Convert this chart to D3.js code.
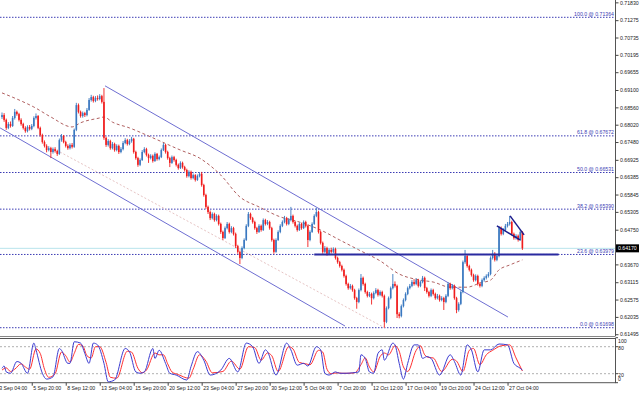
<!DOCTYPE html>
<html><head><meta charset="utf-8">
<script src="https://cdn.jsdelivr.net/npm/d3@7"></script>
<style>html,body{margin:0;padding:0;background:#fff;overflow:hidden}svg{display:block}text{font-family:"Liberation Sans",Arial,sans-serif}</style>
</head><body><svg id="c" width="640" height="394"></svg>
<script>
// ---------- DATA ----------
const firstOpen = 0.6826;
const closes = [
0.6832,0.6817,0.6792,0.6804,0.6798, 0.6823,0.6842,0.6835,0.6817,0.6804,
0.6792,0.6782,0.6795,0.6789,0.6798, 0.6823,0.6829,0.6792,0.6770,0.6748,
0.6736,0.6723,0.6729,0.6717,0.6726, 0.6720,0.6711,0.6754,0.6767,0.6748,
0.6736,0.6729,0.6739,0.6733,0.6786, 0.6863,0.6842,0.6829,0.6838,0.6832,
0.6848,0.6879,0.6888,0.6876,0.6885, 0.6882,0.6891,0.6873,0.6761,0.6739,
0.6751,0.6729,0.6742,0.6723,0.6736, 0.6717,0.6726,0.6745,0.6754,0.6742,
0.6751,0.6758,0.6717,0.6698,0.6677, 0.6692,0.6717,0.6726,0.6708,0.6698,
0.6705,0.6689,0.6711,0.6695,0.6701, 0.6723,0.6739,0.6717,0.6698,0.6683,
0.6701,0.6692,0.6677,0.6667,0.6683, 0.6670,0.6661,0.6642,0.6655,0.6636,
0.6645,0.6630,0.6642,0.6649,0.6614, 0.6583,0.6546,0.6530,0.6511,0.6524,
0.6505,0.6518,0.6493,0.6468,0.6449, 0.6480,0.6493,0.6468,0.6480,0.6462,
0.6424,0.6406,0.6387,0.6418,0.6443, 0.6487,0.6524,0.6511,0.6499,0.6480,
0.6468,0.6487,0.6474,0.6505,0.6493, 0.6499,0.6480,0.6443,0.6406,0.6443,
0.6468,0.6487,0.6499,0.6511,0.6493, 0.6505,0.6518,0.6499,0.6487,0.6474,
0.6493,0.6480,0.6499,0.6487,0.6443, 0.6468,0.6493,0.6518,0.6530,0.6468,
0.6434,0.6406,0.6418,0.6400,0.6412, 0.6406,0.6415,0.6387,0.6374,0.6362,
0.6350,0.6331,0.6306,0.6293,0.6300, 0.6287,0.6262,0.6250,0.6287,0.6325,
0.6306,0.6281,0.6269,0.6275,0.6262, 0.6278,0.6287,0.6272,0.6281,0.6269,
0.6188,0.6231,0.6262,0.6293,0.6306, 0.6300,0.6212,0.6206,0.6237,0.6256,
0.6275,0.6293,0.6300,0.6312,0.6306, 0.6318,0.6300,0.6312,0.6325,0.6293,
0.6281,0.6269,0.6287,0.6275,0.6262, 0.6269,0.6256,0.6262,0.6250,0.6269,
0.6306,0.6293,0.6300,0.6262,0.6225, 0.6244,0.6281,0.6374,0.6393,0.6362,
0.6350,0.6334,0.6318,0.6331,0.6306, 0.6300,0.6318,0.6325,0.6331,0.6337,
0.6387,0.6400,0.6381,0.6393,0.6480, 0.6462,0.6474,0.6487,0.6493,0.6499,
0.6462,0.6449,0.6456,0.6443,0.6468, 0.6417
];
const highs = [
.6840,.6838,.6821,.6810,.6812, .6829,.6851,.6846,.6839,.6822,
.6808,.6797,.6800,.6801,.6804, .6828,.6837,.6832,.6796,.6774,
.6753,.6741,.6735,.6733,.6731, .6732,.6724,.6759,.6773,.6770,
.6752,.6741,.6744,.6745,.6790, .6870,.6868,.6846,.6843,.6842,
.6854,.6885,.6895,.6892,.6891, .6893,.6897,.6895,.6916,.6765,
.6757,.6755,.6748,.6746,.6741, .6740,.6732,.6751,.6760,.6758,
.6757,.6764,.6761,.6721,.6702, .6697,.6723,.6732,.6730,.6712,
.6710,.6709,.6716,.6714,.6706, .6728,.6745,.6742,.6721,.6702,
.6706,.6705,.6696,.6681,.6688, .6687,.6674,.6665,.6660,.6659,
.6650,.6648,.6647,.6654,.6655, .6618,.6587,.6550,.6535,.6529,
.6528,.6523,.6522,.6497,.6472, .6485,.6499,.6497,.6486,.6484,
.6466,.6428,.6410,.6423,.6448, .6492,.6530,.6528,.6515,.6503,
.6484,.6492,.6491,.6510,.6509, .6505,.6503,.6484,.6447,.6448,
.6473,.6492,.6504,.6518,.6515, .6511,.6546,.6522,.6503,.6491,
.6498,.6497,.6504,.6503,.6491, .6473,.6498,.6523,.6543,.6534,
.6472,.6438,.6424,.6422,.6417, .6419,.6420,.6419,.6391,.6378,
.6366,.6354,.6335,.6310,.6306, .6304,.6291,.6266,.6292,.6337,
.6329,.6310,.6285,.6281,.6279, .6283,.6293,.6291,.6286,.6285,
.6273,.6236,.6267,.6298,.6337, .6314,.6304,.6218,.6242,.6261,
.6280,.6298,.6306,.6318,.6321, .6324,.6322,.6317,.6331,.6329,
.6297,.6285,.6292,.6291,.6279, .6275,.6273,.6268,.6266,.6274,
.6311,.6310,.6306,.6304,.6266, .6249,.6286,.6379,.6412,.6397,
.6366,.6354,.6338,.6336,.6335, .6311,.6323,.6330,.6336,.6343,
.6392,.6412,.6405,.6398,.6486, .6485,.6480,.6493,.6499,.6518,
.6503,.6466,.6461,.6460,.6473, .6471
];
const lows = [
.6820,.6811,.6786,.6788,.6793, .6795,.6818,.6830,.6812,.6799,
.6787,.6777,.6778,.6784,.6785, .6794,.6818,.6788,.6765,.6743,
.6731,.6716,.6719,.6698,.6712, .6715,.6705,.6708,.6749,.6744,
.6731,.6724,.6725,.6728,.6730, .6782,.6837,.6824,.6824,.6826,
.6828,.6845,.6874,.6871,.6872, .6877,.6878,.6868,.6755,.6733,
.6734,.6724,.6725,.6718,.6719, .6711,.6713,.6722,.6741,.6737,
.6738,.6746,.6712,.6693,.6671, .6673,.6689,.6713,.6703,.6683,
.6694,.6684,.6686,.6690,.6691, .6698,.6720,.6712,.6693,.6670,
.6680,.6687,.6672,.6662,.6664, .6665,.6656,.6637,.6638,.6631,
.6632,.6625,.6627,.6638,.6609, .6578,.6540,.6524,.6505,.6507,
.6500,.6501,.6488,.6462,.6443, .6446,.6476,.6463,.6464,.6457,
.6418,.6400,.6368,.6383,.6414, .6440,.6483,.6506,.6494,.6475,
.6462,.6465,.6469,.6471,.6488, .6489,.6475,.6438,.6400,.6403,
.6440,.6464,.6483,.6495,.6488, .6489,.6501,.6494,.6482,.6469,
.6471,.6475,.6477,.6482,.6421, .6439,.6465,.6490,.6514,.6463,
.6429,.6400,.6402,.6394,.6396, .6401,.6402,.6382,.6369,.6357,
.6345,.6326,.6301,.6288,.6289, .6282,.6257,.6229,.6246,.6283,
.6301,.6276,.6264,.6265,.6242, .6258,.6274,.6267,.6268,.6264,
.61698,.6184,.6227,.6258,.6289, .6295,.6200,.6199,.6202,.6233,
.6252,.6271,.6289,.6296,.6301, .6302,.6295,.6296,.6308,.6284,
.6276,.6264,.6265,.6270,.6257, .6258,.6251,.6252,.6225,.6246,
.6265,.6288,.6289,.6257,.6215, .6220,.6240,.6277,.6369,.6357,
.6345,.6329,.6313,.6314,.6301, .6295,.6296,.6313,.6320,.6326,
.6333,.6382,.6376,.6377,.6389, .6457,.6458,.6470,.6482,.6488,
.6457,.6444,.6444,.6438,.6440, .6412
];
// moving average (dashed), [bar index, price]
const maPoints = [[0,0.6901],[8,0.6879],[15,0.6857],[23,0.6826],[33,0.6795],[37,0.6808],[46,0.6823],[48,0.6826],[52,0.6810],[60,0.6792],[70,0.6764],[84,0.6723],[93,0.6698],[103,0.6645],[112,0.6577],[121,0.6546],[131,0.6515],[140,0.6499],[150,0.6474],[159,0.6443],[168,0.6412],[178,0.6378],[187,0.6337],[197,0.6318],[203,0.6312],[211,0.6296],[219,0.6296],[225,0.6309],[230,0.6318],[234,0.6350],[239,0.6365],[245,0.6381]];
// stochastic %K (blue) and %D (red), [bar index, value]
const stochK = [[0,32],[1,37],[2,24],[4,21],[7,47],[9,43],[12,21],[15,88],[16,73],[19,21],[21,8],[24,13],[27,76],[28,72],[31,43],[32,43],[34,91],[37,88],[39,65],[41,43],[43,88],[45,84],[48,43],[50,2],[53,6],[58,76],[60,69],[63,24],[65,21],[67,24],[71,76],[72,54],[74,72],[77,43],[79,21],[82,17],[87,6],[89,36],[92,69],[95,50],[98,17],[103,28],[107,54],[111,24],[115,88],[118,80],[121,43],[124,73],[125,69],[129,17],[134,88],[136,73],[139,39],[142,43],[144,37],[148,80],[150,73],[152,21],[154,17],[157,24],[159,21],[162,21],[165,22],[168,24],[169,62],[171,54],[173,24],[175,21],[177,65],[179,73],[180,50],[184,88],[185,84],[187,43],[189,8],[191,43],[194,84],[196,84],[198,54],[200,58],[202,54],[206,17],[211,62],[213,47],[216,17],[219,84],[221,73],[224,24],[227,73],[230,73],[234,86],[238,84],[241,43],[244,32],[245,28]];
const stochD = [[0,28],[2,33],[4,25],[6,30],[9,42],[11,35],[13,30],[16,75],[18,65],[20,30],[22,12],[25,20],[28,68],[30,60],[32,46],[34,65],[36,85],[38,82],[40,60],[42,55],[44,80],[46,80],[49,45],[51,12],[54,10],[59,70],[61,68],[64,32],[66,22],[68,28],[72,66],[74,62],[76,62],[78,42],[80,24],[83,18],[88,10],[90,30],[93,62],[96,48],[99,22],[104,25],[108,48],[112,30],[116,80],[119,78],[122,50],[125,66],[127,60],[130,25],[135,80],[137,75],[140,45],[143,42],[145,40],[149,72],[151,68],[153,30],[155,20],[158,22],[160,21],[163,21],[166,22],[169,40],[171,55],[173,35],[175,24],[178,58],[180,66],[182,62],[185,82],[187,70],[189,35],[191,25],[195,72],[197,82],[199,62],[201,56],[203,55],[207,25],[212,52],[214,48],[217,25],[220,72],[222,76],[225,40],[228,62],[231,72],[235,82],[239,84],[242,55],[245,26]];
const stochLevels = [80, 20];
const stochLabels = [100, 80, 20, 0];
// fibonacci levels
const fibPct = ["0.0","23.6","38.2","50.0","61.8","100.0"];
const fibPrice = [0.61698,0.63979,0.65390,0.66531,0.67672,0.71364];
// trend lines [[i1,p1],[i2,p2]]
const channelUpper = [[48.5,0.6923],[238.2,0.6203]];
const channelLower = [[-0.9,0.6792],[161.5,0.6175]];
const faintLine = [[27.3,0.6717],[180.3,0.6169]];
const supportLine = [[147,0.6398],[262,0.6398]];
const pennantLow = [[233,0.6487],[243.9,0.6443]];
const pennantHigh = [[239.2,0.6518],[245.8,0.6459]];
const bidPrice = 0.64170;
const yTicks = [0.71830,0.71275,0.70735,0.70195,0.69655,0.69100,0.68560,0.68020,0.67480,0.66925,0.66385,0.65845,0.65305,0.64750,0.63670,0.63115,0.62575,0.62035,0.61495];
const xTickIdx = [-2,14,30,46,62,78,94,110,126,142,158,174,190,206,222,238];
const xLabels = ["3 Sep 04:00","5 Sep 20:00","8 Sep 12:00","13 Sep 04:00","15 Sep 20:00","20 Sep 12:00","23 Sep 04:00","27 Sep 20:00","30 Sep 12:00","5 Oct 04:00","7 Oct 20:00","12 Oct 12:00","17 Oct 04:00","19 Oct 20:00","24 Oct 12:00","27 Oct 04:00"];

// ---------- LAYOUT ----------
const plotR = 615, mainB = 336, stT = 338.5, stB = 382.7;
const svg = d3.select('#c');
const x = d3.scaleLinear().domain([0,245]).range([2,522.4]);
const y = d3.scaleLinear().domain([0.6144,0.71903]).range([mainB,0]);
const sy = d3.scaleLinear().domain([0,100]).range([stB,337.7]);

const defs = svg.append('defs');
defs.append('clipPath').attr('id','cm').append('rect').attr('x',0).attr('y',0).attr('width',plotR).attr('height',mainB);
defs.append('clipPath').attr('id','cs').append('rect').attr('x',0).attr('y',stT).attr('width',plotR).attr('height',stB-stT);

const main = svg.append('g').attr('clip-path','url(#cm)');

// fib lines
fibPrice.forEach((p,k)=>{
  main.append('line').attr('x1',0).attr('x2',plotR).attr('y1',y(p)).attr('y2',y(p))
    .attr('stroke','#3c3cb4').attr('stroke-width',1).attr('stroke-dasharray','1.5,1.5');
});
// bid line
main.append('line').attr('x1',0).attr('x2',plotR).attr('y1',y(bidPrice)).attr('y2',y(bidPrice))
  .attr('stroke','#b8e4ec').attr('stroke-width',1);

const seg = (pts, stroke, w, dash) => main.append('line')
  .attr('x1',x(pts[0][0])).attr('y1',y(pts[0][1])).attr('x2',x(pts[1][0])).attr('y2',y(pts[1][1]))
  .attr('stroke',stroke).attr('stroke-width',w).attr('stroke-dasharray',dash||null);

seg(faintLine,'#e6c4c4',1,'2,2');
seg(channelUpper,'#6e6ed2',1);
seg(channelLower,'#6e6ed2',1);

// moving average
main.append('path').datum(maPoints)
  .attr('d', d3.line().x(d=>x(d[0])).y(d=>y(d[1])).curve(d3.curveMonotoneX))
  .attr('fill','none').attr('stroke','#b06060').attr('stroke-width',1).attr('stroke-dasharray','3,2.5');

// candles
const bars = closes.map((c,i)=>{
  const o = i ? closes[i-1] : firstOpen;
  return {i,o,c,h:Math.max(highs[i],o,c),l:Math.min(lows[i],o,c)};
});
const bull = '#3a78c0', bear = '#f01c1c';
const cg = main.append('g');
cg.selectAll('line.w').data(bars).join('line').attr('class','w')
  .attr('x1',d=>x(d.i)).attr('x2',d=>x(d.i)).attr('y1',d=>y(d.h)).attr('y2',d=>y(d.l))
  .attr('stroke',d=>d.c>=d.o?bull:bear).attr('stroke-width',0.9);
cg.selectAll('rect.b').data(bars).join('rect').attr('class','b')
  .attr('x',d=>x(d.i)-0.8).attr('width',1.6)
  .attr('y',d=>y(Math.max(d.o,d.c))).attr('height',d=>Math.max(0.8,Math.abs(y(d.o)-y(d.c))))
  .attr('fill',d=>d.c>=d.o?bull:bear);

// support line & pennant
seg(supportLine,'#2a2aa0',2);
seg(pennantLow,'#1c1c8c',1.5);
seg(pennantHigh,'#1c1c8c',1.5);

// fib labels
fibPrice.forEach((p,k)=>{
  svg.append('text').attr('x',plotR-1).attr('y',y(p)-1.5).attr('text-anchor','end')
    .attr('font-size',5.2).attr('fill','#3c3cb4').text(fibPct[k]+' @ '+p.toFixed(5));
});

// borders
svg.append('line').attr('x1',plotR+0.5).attr('x2',plotR+0.5).attr('y1',0).attr('y2',mainB).attr('stroke','#555');
svg.append('line').attr('x1',0).attr('x2',plotR+0.5).attr('y1',mainB+0.5).attr('y2',mainB+0.5).attr('stroke','#888');
svg.append('rect').attr('x',-1).attr('y',stT).attr('width',plotR+1.5).attr('height',stB-stT)
  .attr('fill','none').attr('stroke','#555').attr('stroke-width',1);

// price axis
const ya = svg.append('g').attr('transform',`translate(${plotR+0.5},0)`)
  .call(d3.axisRight(y).tickValues(yTicks).tickSize(3).tickPadding(1.5).tickFormat(d3.format('.5f')));
ya.select('.domain').remove();
ya.selectAll('line').attr('stroke','#444');
ya.selectAll('text').attr('font-size',5.2).attr('fill','#222').attr('font-family','"Liberation Sans",Arial,sans-serif');

// bid box
svg.append('rect').attr('x',plotR+1).attr('y',y(bidPrice)-4).attr('width',23).attr('height',8).attr('fill','#000');
svg.append('text').attr('x',plotR+3).attr('y',y(bidPrice)+2).attr('font-size',5.2).attr('fill','#fff').text(bidPrice.toFixed(5));

// stochastic
const st = svg.append('g').attr('clip-path','url(#cs)');
stochLevels.forEach(v=>{
  st.append('line').attr('x1',0).attr('x2',plotR).attr('y1',sy(v)).attr('y2',sy(v))
    .attr('stroke','#b0b0b0').attr('stroke-dasharray','2,2');
});
const sl = d3.line().x(d=>x(d[0])).y(d=>sy(d[1])).curve(d3.curveMonotoneX);
st.append('path').datum(stochD).attr('d',sl).attr('fill','none').attr('stroke','#ff3030').attr('stroke-width',1);
st.append('path').datum(stochK).attr('d',sl).attr('fill','none').attr('stroke','#3c3cd0').attr('stroke-width',1);
const stLabY = {100: sy(100)+3.5, 80: sy(80)+1.5, 20: sy(20)+1.5, 0: sy(0)-3};
stochLabels.forEach(v=>{
  svg.append('text').attr('x',plotR+3).attr('y',stLabY[v]+1.5).attr('font-size',5.2).attr('fill','#222').text(v);
  svg.append('line').attr('x1',plotR+0.5).attr('x2',plotR+3).attr('y1',sy(v)).attr('y2',sy(v)).attr('stroke','#444');
});

// time axis
const xa = svg.append('g').attr('transform',`translate(0,${stB})`)
  .call(d3.axisBottom(x).tickValues(xTickIdx).tickSize(3).tickPadding(0.5).tickFormat((d,k)=>xLabels[k]));
xa.select('.domain').remove();
xa.selectAll('line').attr('stroke','#444');
xa.selectAll('text').attr('font-size',5.2).attr('fill','#222').attr('text-anchor','start').attr('x',1)
  .attr('font-family','"Liberation Sans",Arial,sans-serif');
</script></body></html>
